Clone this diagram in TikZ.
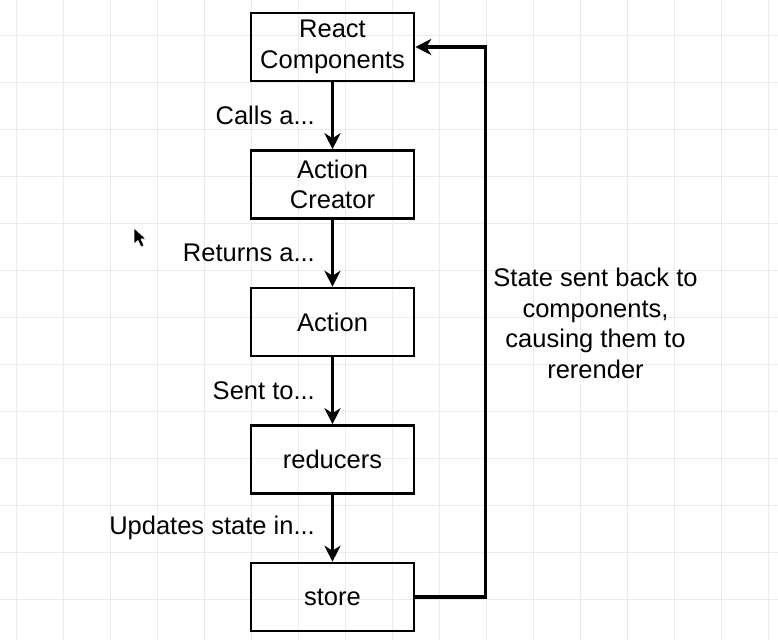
\documentclass[tikz,border=0pt]{standalone}
\usepackage{fontspec}
\setmainfont{Liberation Sans}
\usetikzlibrary{positioning,arrows.meta}

\definecolor{gridgray}{HTML}{EBEBEB}

\tikzset{
    stagebox/.style={draw, line width=2.6pt, minimum width=163pt, minimum height=68pt,
        inner sep=0pt, align=center},
    flow/.style={line width=3.4pt, -{Stealth[length=16pt, width=16pt, inset=5pt]}},
    steplabel/.style={inner sep=0pt, left=16pt},
}

\begin{document}
\begin{tikzpicture}[x=1pt, y=-1pt, font=\fontsize{25.5}{30.5}\selectfont]
    \useasboundingbox[fill=white] (0,0) rectangle (778,640);
    % background grid
    \foreach \k in {0,...,16}
        \draw[gridgray, line width=1pt] (16.7+47*\k,0) -- (16.7+47*\k,640);
    \foreach \k in {0,...,12}
        \draw[gridgray, line width=1pt] (0,35.3+47*\k) -- (778,35.3+47*\k);

    % mouse pointer
    \filldraw[fill=black, draw=white, line width=0.6pt]
        (134,228) -- (134,244) -- (138,240.5) -- (141,247) -- (144,245.5)
        -- (141,239) -- (146,239) -- cycle;

    % stages
    \node[stagebox] (react) at (332.5,47) {React\\Components};
    \node[stagebox, below=66.9pt of react] (creator) {Action\\Creator};
    \node[stagebox, below=66.9pt of creator] (action) {Action};
    \node[stagebox, below=66.9pt of action] (reducers) {reducers};
    \node[stagebox, below=66.9pt of reducers] (store) {store};

    \draw[flow] (react) -- node[steplabel] (callslbl) {Calls a...} (creator);
    \draw[flow] (creator) -- node[steplabel] (returnslbl) {Returns a...} (action);
    \draw[flow] (action) -- node[steplabel] (sentlbl) {Sent to...} (reducers);
    \draw[flow] (reducers) -- node[steplabel] (updateslbl) {Updates state in...} (store);

    % feedback loop
    \draw[flow] (store.east) -- ++(70,0) coordinate (turn) |- (react.east);
    \node[align=center] (backlbl) at (595.5,323.5)
        {State sent back to\\components,\\causing them to\\rerender};
\end{tikzpicture}
\end{document}
